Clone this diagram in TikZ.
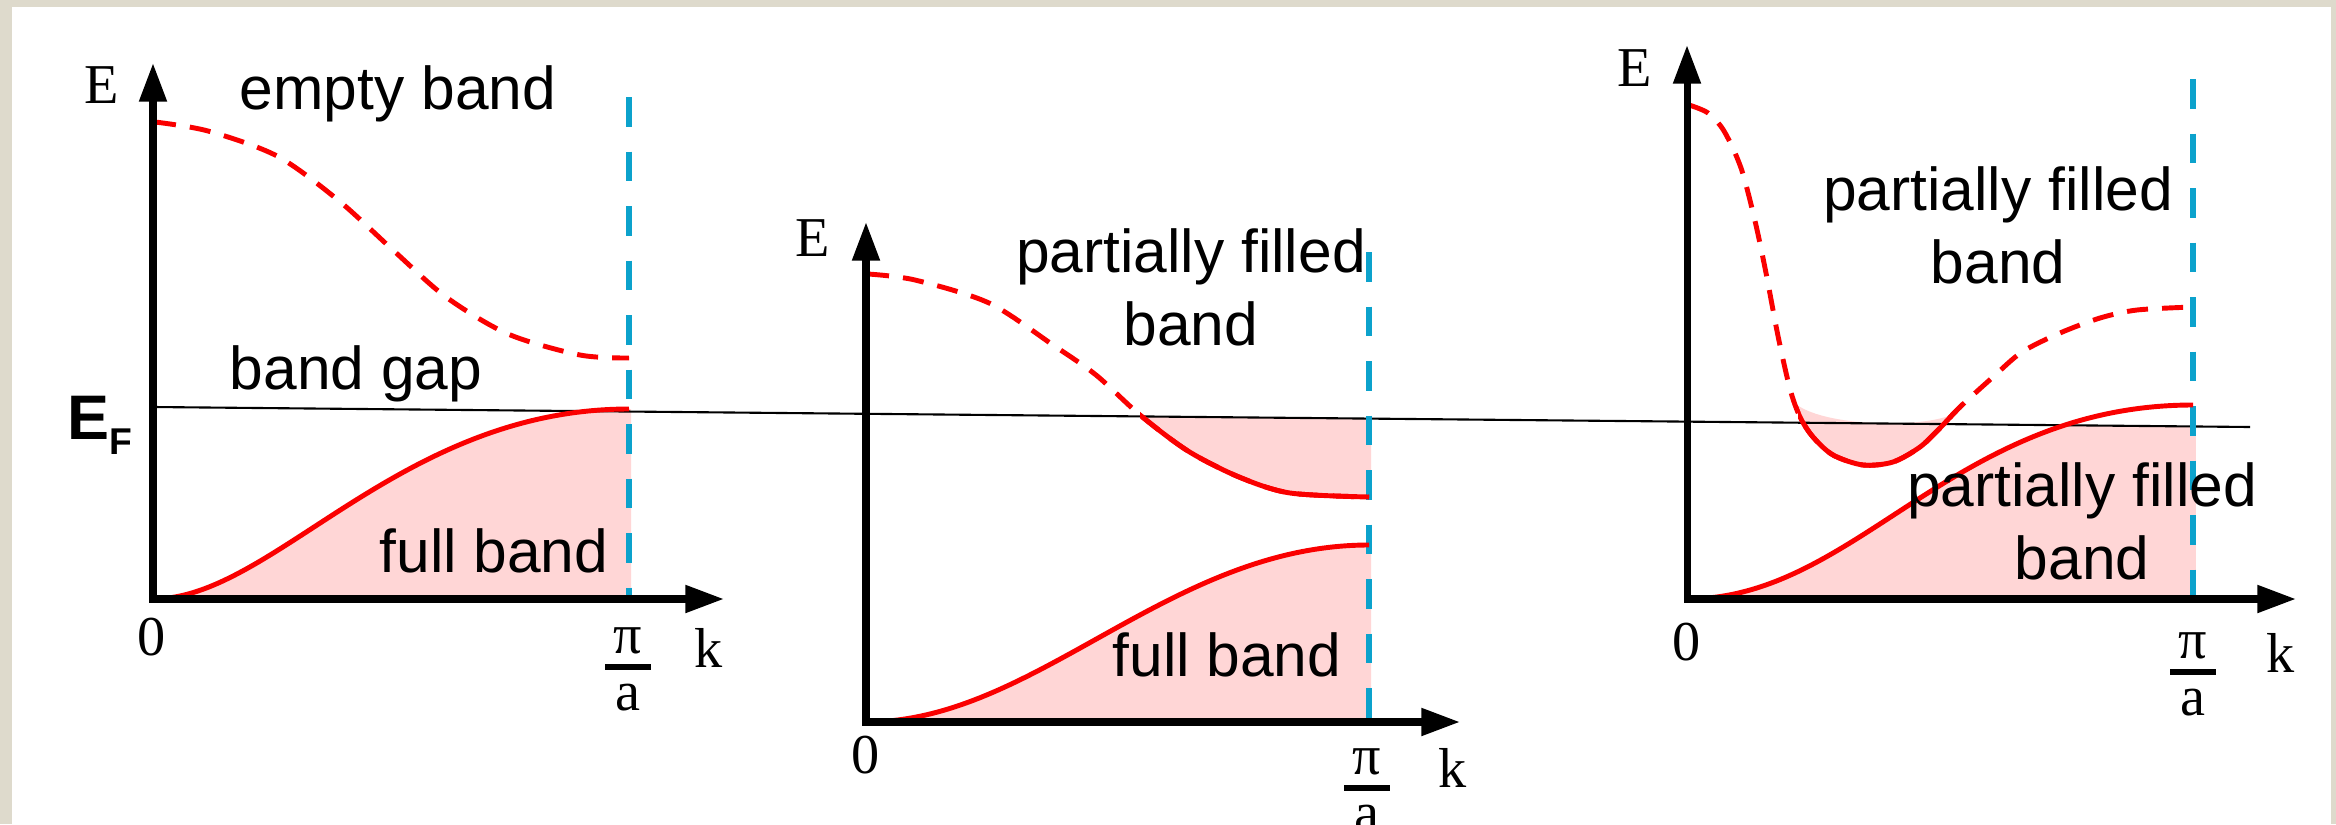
\documentclass[tikz,border=0pt]{standalone}
\usepackage{fontspec}
\setmainfont{Liberation Sans}
\newfontfamily\serif{Liberation Serif}
\usetikzlibrary{arrows.meta}

\definecolor{bandred}{RGB}{250,0,0}
\definecolor{bandpink}{RGB}{255,214,214}
\definecolor{zoneblue}{RGB}{12,162,204}
\definecolor{framegray}{RGB}{222,218,204}

\newcommand{\pibya}{\vbox{\hbox to 13pt{\hss π\hss}\kern2.8pt\hrule height 1.7pt\kern4pt\hbox to 13pt{\hss a\hss}}}

\begin{document}
\begin{tikzpicture}[x=0.01cm, y=-0.01cm,
    axis/.style={line width=2pt, {Triangle[length=11pt,width=7.5pt]}-{Triangle[length=11pt,width=7.5pt]}},
    band/.style={bandred, line width=1.4pt},
    emptyband/.style={dash pattern=on 6pt off 4pt},
    zone/.style={zoneblue, line width=1.8pt, dash pattern=on 8.5pt off 7pt},
    fermi/.style={black, line width=0.6pt},
    txt/.style={font=\fontsize{17.2}{20.5}\selectfont, inner sep=0pt, align=center},
    ax/.style={font=\serif\fontsize{16}{19}\selectfont, inner sep=0pt}]
    \useasboundingbox (0,0) rectangle (2336,824);
    \fill[framegray] (0,0) rectangle (2336,824);
    \fill[white] (12,7) rectangle (2331,824);

    \coordinate (o1) at (153,599);
    \coordinate (y1) at (153,63);
    \coordinate (x1) at (724,599);
    \coordinate (o2) at (866,722);
    \coordinate (y2) at (866,222);
    \coordinate (x2) at (1460,722);
    \coordinate (o3) at (1687,599);
    \coordinate (y3) at (1687,45);
    \coordinate (x3) at (2296,599);
    \coordinate (zb1) at (629,97);
    \coordinate (zb2) at (1369,252);
    \coordinate (zb3) at (2193,79);
    \coordinate (efl) at (153,407);
    \coordinate (efr) at (2250,427);

    \fill[bandpink] (o1) .. controls (273,599) and (399,409) .. (629,409) -- (631,409) -- (631,599) -- cycle;
    \fill[bandpink] plot[smooth] coordinates {(1140,416) (1188,451) (1239,477) (1290,493) (1369,497)} -- (1371,497) -- (1371,418.6) -- cycle;
    \fill[bandpink] (o2) .. controls (1036,722) and (1169,545) .. (1369,545) -- (1371,545) -- (1371,722) -- cycle;
    \fill[bandpink] plot[smooth] coordinates {(1800,417) (1813,437) (1833,455) (1863,465) (1893,462) (1920,447) (1940,428) (1955,413)} .. controls (1930,428) and (1830,428) .. (1797,405) -- cycle;
    \begin{scope}
        \clip (1687,421.6) -- (2196,426.5) -- (2196,599) -- (1687,599) -- cycle;
        \fill[bandpink] (o3) .. controls (1857,599) and (1953,405) .. (2193,405) -- (2196,405) -- (2196,599) -- cycle;
    \end{scope}

    \draw[fermi] (efl) -- (efr);

    \draw[zone] (zb1) -- (zb1 |- o1);
    \draw[zone] (zb2) -- (zb2 |- o2);
    \draw[zone] (zb3) -- (zb3 |- o3);

    \draw[band] (o1) .. controls (273,599) and (399,409) .. (629,409);
    \draw[band, emptyband] plot[smooth] coordinates {(155,122) (208,131) (277,156) (338,200) (394,251) (446,297) (508,334) (580,355) (629,358)};

    \draw[band, emptyband] plot[smooth] coordinates {(868,274) (915,280) (989,303) (1053,345) (1096,375) (1140,415) (1188,451) (1239,477) (1290,493) (1369,497)};
    \begin{scope}
        \clip (1140,300) rectangle (1380,520);
        \draw[band] plot[smooth] coordinates {(868,274) (915,280) (989,303) (1053,345) (1096,375) (1140,415) (1188,451) (1239,477) (1290,493) (1369,497)};
    \end{scope}
    \draw[band] (o2) .. controls (1036,722) and (1169,545) .. (1369,545);

    \draw[band, emptyband] plot[smooth] coordinates {(1689,105) (1708,113) (1724,131) (1741,168) (1755,221) (1766,273) (1778,336) (1790,389) (1800,417) (1813,437) (1833,455) (1863,465) (1893,462) (1920,447) (1940,428) (1960,407) (1993,377) (2022,352) (2060,333) (2100,318) (2137,310) (2193,307)};
    \begin{scope}
        \clip (1798,380) rectangle (1961,480);
        \draw[band] plot[smooth] coordinates {(1689,105) (1708,113) (1724,131) (1741,168) (1755,221) (1766,273) (1778,336) (1790,389) (1800,417) (1813,437) (1833,455) (1863,465) (1893,462) (1920,447) (1940,428) (1960,407) (1993,377) (2022,352) (2060,333) (2100,318) (2137,310) (2193,307)};
    \end{scope}
    \draw[band] (o3) .. controls (1857,599) and (1953,405) .. (2193,405);

    \draw[axis] (y1) -- (o1) -- (x1);
    \draw[axis] (y2) -- (o2) -- (x2);
    \draw[axis] (y3) -- (o3) -- (x3);

    \node[txt, anchor=base] (empty1) at (398,110) {empty band};
    \node[txt, anchor=base] (gap1) at (356,389) {band gap};
    \node[txt, anchor=base] (full1) at (494,572) {full band};
    \node[txt, anchor=base] (part2) at (1191,345) {partially filled\\band};
    \node[txt, anchor=base] (full2) at (1227,676) {full band};
    \node[txt, anchor=base] (upper3) at (1998,283) {partially filled\\band};
    \node[txt, anchor=base] (lower3) at (2082,579) {partially filled\\band};
    \node[anchor=base west, inner sep=0pt, font=\bfseries\fontsize{17.9}{20}\selectfont] (ef) at (67,439) {E\raisebox{-4.5pt}{\fontsize{10.6}{12}\selectfont F}};

    \node[ax, anchor=base] (e1) at (102,103) {E};
    \node[ax, anchor=base] (zero1) at (152,655) {0};
    \node[ax, anchor=base] (k1) at (709,667) {k};
    \node[ax] (pi1) at (628,669) {\pibya};
    \node[ax, anchor=base] (e2) at (813,256) {E};
    \node[ax, anchor=base] (zero2) at (866,773) {0};
    \node[ax, anchor=base] (k2) at (1453,787) {k};
    \node[ax] (pi2) at (1367,790) {\pibya};
    \node[ax, anchor=base] (e3) at (1635,87) {E};
    \node[ax, anchor=base] (zero3) at (1687,660) {0};
    \node[ax, anchor=base] (k3) at (2281,672) {k};
    \node[ax] (pi3) at (2193,674) {\pibya};
\end{tikzpicture}
\end{document}
